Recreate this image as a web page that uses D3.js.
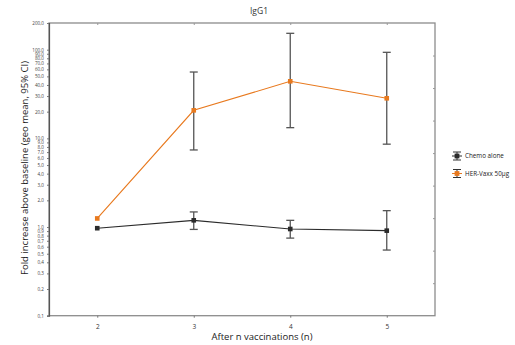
<!DOCTYPE html>
<html lang="en">
<head>
  <meta charset="UTF-8">
  <title>IgG1</title>
  <style>
    body { margin: 0; background: #fff; }
    text { font-family: "Open Sans", "Liberation Sans", sans-serif; }
  </style>
</head>
<body>
  <script src="https://d3js.org/d3.v7.min.js"></script>
  <script>
    const width = 515, height = 345;
    const margin = { top: 23, left: 49, bottom: 30, right: 80 };

    // data
    const vaccinations = [2, 3, 4, 5];
    const chemoMean = [0.97, 1.19, 0.95, 0.91];
    const chemoLow = [null, 0.94, 0.75, 0.55];
    const chemoHigh = [null, 1.48, 1.19, 1.53];
    const herMean = [1.25, 20.7, 44, 28.3];
    const herLow = [null, 7.4, 13.2, 8.6];
    const herHigh = [null, 56, 153, 93.4];
    const yTicks = [0.1, 0.2, 0.3, 0.4, 0.5, 0.6, 0.7, 0.8, 0.9, 1, 2, 3, 4, 5, 6, 7, 8, 9,
      10, 20, 30, 40, 50, 60, 70, 80, 90, 100, 200];
    const seriesNames = ["Chemo alone", "HER-Vaxx 50\u00b5g"];
    const seriesColors = ["#2b2b2b", "#e8791e"];

    const x0 = 49, x1 = 435, y0 = 315.7, y1 = 23;

    const svg = d3.select("body").append("svg").attr("width", width).attr("height", height);

    // scales
    const xscale = d3.scaleLinear().domain([1.5, 5.5]).range([x0, x1]);
    const yscale = d3.scaleLog().domain([0.1, 200]).range([y0, y1]);
    const yright = d3.scaleLinear().domain([0, 9]).range([y0, y1]);

    const fmt = d => d3.format(".1f")(d).replace(".", ",");

    // frame
    svg.append("rect").attr("x", x0).attr("y", y1).attr("width", x1 - x0).attr("height", y0 - y1)
      .attr("fill", "none").attr("stroke", "#8c8c8c").attr("stroke-width", 1.3);

    // axes
    const yAxis = d3.axisLeft(yscale).tickValues(yTicks).tickFormat(fmt).tickSize(2).tickPadding(3);
    const gy = svg.append("g").attr("transform", `translate(${x0},0)`).call(yAxis);
    gy.select(".domain").attr("stroke", "#555").attr("stroke-width", 1.2);
    gy.selectAll(".tick line").attr("stroke", "#777");
    gy.selectAll(".tick text").attr("font-size", 4.6).attr("fill", "#444");

    const xAxis = d3.axisBottom(xscale).tickValues(vaccinations).tickSize(2).tickPadding(7).tickFormat(d3.format("d"));
    const gx = svg.append("g").attr("transform", `translate(0,${y0})`).call(xAxis);
    gx.select(".domain").remove();
    gx.selectAll(".tick line").attr("stroke", "#777");
    gx.selectAll(".tick text").attr("font-size", 6.5).attr("fill", "#333");

    const topAxis = d3.axisBottom(xscale).tickValues(vaccinations).tickSize(2).tickFormat("");
    const gt = svg.append("g").attr("transform", `translate(0,${y1})`).call(topAxis);
    gt.select(".domain").remove();
    gt.selectAll(".tick line").attr("stroke", "#999");

    const rightAxis = d3.axisLeft(yright).tickValues(d3.range(1, 9)).tickSize(2).tickFormat("");
    const gr = svg.append("g").attr("transform", `translate(${x1},0)`).call(rightAxis);
    gr.select(".domain").remove();
    gr.selectAll(".tick line").attr("stroke", "#999");

    // titles
    svg.append("text").attr("x", 259).attr("y", 14).attr("text-anchor", "middle")
      .attr("font-size", 8.5).attr("fill", "#333").text("IgG1");
    svg.append("text").attr("x", 262).attr("y", 340).attr("text-anchor", "middle")
      .attr("font-size", 9.5).attr("fill", "#222").text("After n vaccinations (n)");
    svg.append("text").attr("transform", "translate(28,168) rotate(-90)").attr("text-anchor", "middle")
      .attr("font-size", 9.5).attr("fill", "#222").text("Fold increase above baseline (geo mean, 95% CI)");

    // series
    const series = [
      { mean: chemoMean, low: chemoLow, high: chemoHigh },
      { mean: herMean, low: herLow, high: herHigh }
    ];
    const line = d3.line().x(d => xscale(d.x)).y(d => yscale(d.y));

    series.forEach((s, k) => {
      const pts = vaccinations.map((v, i) => ({ x: v, y: s.mean[i], lo: s.low[i], hi: s.high[i] }));
      const g = svg.append("g");
      g.append("path").datum(pts).attr("d", line).attr("fill", "none")
        .attr("stroke", seriesColors[k]).attr("stroke-width", 1.1);
      const eb = g.selectAll(".err").data(pts.filter(p => p.lo != null)).enter().append("g");
      eb.append("line").attr("x1", d => xscale(d.x)).attr("x2", d => xscale(d.x))
        .attr("y1", d => yscale(d.lo)).attr("y2", d => yscale(d.hi))
        .attr("stroke", "#555").attr("stroke-width", 1.3);
      [d => d.lo, d => d.hi].forEach(f => {
        eb.append("line").attr("x1", d => xscale(d.x) - 4).attr("x2", d => xscale(d.x) + 4)
          .attr("y1", d => yscale(f(d))).attr("y2", d => yscale(f(d)))
          .attr("stroke", "#555").attr("stroke-width", 1.3);
      });
      g.selectAll("rect").data(pts).enter().append("rect")
        .attr("x", d => xscale(d.x) - 2.3).attr("y", d => yscale(d.y) - 2.3)
        .attr("width", 4.6).attr("height", 4.6).attr("fill", seriesColors[k]);
    });

    // legend
    const legend = svg.append("g").attr("transform", "translate(452,156)");
    seriesNames.forEach((name, k) => {
      const lg = legend.append("g").attr("transform", `translate(0,${k * 17.5})`);
      lg.append("line").attr("x1", 0).attr("x2", 10).attr("y1", 0).attr("y2", 0)
        .attr("stroke", seriesColors[k]).attr("stroke-width", 1);
      lg.append("line").attr("x1", 5).attr("x2", 5).attr("y1", -4).attr("y2", 4)
        .attr("stroke", "#333").attr("stroke-width", 1);
      [-4, 4].forEach(dy => lg.append("line").attr("x1", 1).attr("x2", 9).attr("y1", dy).attr("y2", dy)
        .attr("stroke", "#333").attr("stroke-width", 1));
      lg.append("rect").attr("x", 2.6).attr("y", -2.4).attr("width", 4.8).attr("height", 4.8)
        .attr("fill", seriesColors[k]);
      lg.append("text").attr("x", 13).attr("y", 2.3).attr("font-size", 6.3).attr("fill", "#222").text(name);
    });
  </script>
</body>
</html>
